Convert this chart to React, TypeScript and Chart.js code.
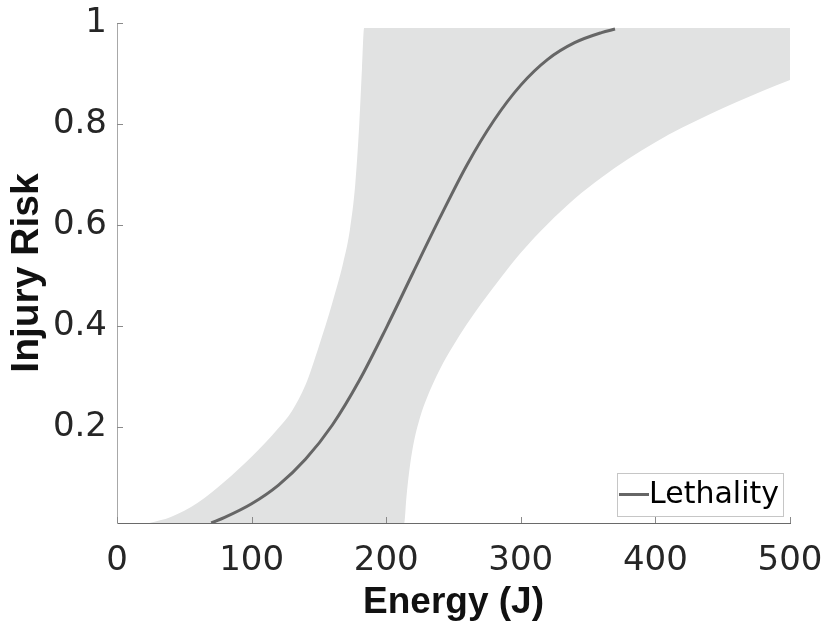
import React, { useEffect, useRef } from "react";
import { Chart, registerables } from "chart.js";

Chart.register(...registerables);

// ---- data ----
const xTickValues = [0, 100, 200, 300, 400, 500];
const yTickValues = [0.2, 0.4, 0.6, 0.8, 1];

const lethalityLabel = "Lethality";
const lethalityX = [70, 80, 100, 120, 140, 160, 180, 200, 220, 240, 260, 280, 300, 320, 340, 360, 370];
const lethalityY = [0.01, 0.021, 0.048, 0.085, 0.136, 0.204, 0.292, 0.396, 0.506, 0.615, 0.719, 0.807, 0.877, 0.928, 0.961, 0.981, 0.988];

// upper confidence bound (left edge of grey band)
const upperX = [24, 40, 60, 80, 100, 120, 130, 140, 150, 160, 168, 173, 177, 180, 182, 183.6, 500];
const upperY = [0.01, 0.022, 0.05, 0.092, 0.141, 0.198, 0.232, 0.283, 0.36, 0.446, 0.525, 0.59, 0.68, 0.8, 0.91, 0.99, 0.99];

// lower confidence bound (right edge of grey band)
const lowerX = [24, 213.5, 215, 217, 220, 225, 230, 240, 250, 260, 270, 285, 300, 320, 340, 360, 380, 400, 420, 440, 460, 480, 500];
const lowerY = [0.01, 0.01, 0.06, 0.11, 0.163, 0.218, 0.256, 0.315, 0.362, 0.404, 0.442, 0.495, 0.545, 0.602, 0.652, 0.694, 0.731, 0.764, 0.793, 0.819, 0.843, 0.866, 0.887];

const xTitle = "Energy (J)";
const yTitle = "Injury Risk";

const toPoints = (xs: number[], ys: number[]) => xs.map((x, i) => ({ x, y: ys[i] }));

const innerTicks = {
  id: "innerTicks",
  afterDatasetsDraw(chart: any) {
    const { ctx, chartArea, scales } = chart;
    const { left, bottom } = chartArea;
    ctx.save();
    ctx.lineWidth = 1;
    ctx.strokeStyle = "#8a8a8a";
    scales.y.ticks.forEach((t: any) => {
      const py = Math.round(scales.y.getPixelForValue(t.value)) + 0.5;
      ctx.beginPath();
      ctx.moveTo(left, py);
      ctx.lineTo(left + 6, py);
      ctx.stroke();
    });
    scales.x.ticks.forEach((t: any) => {
      const px = Math.round(scales.x.getPixelForValue(t.value)) + 0.5;
      ctx.beginPath();
      ctx.moveTo(px, bottom);
      ctx.lineTo(px, bottom - 6);
      ctx.stroke();
    });
    ctx.restore();
  },
};

const boxLegend = {
  id: "boxLegend",
  afterDraw(chart: any) {
    const { ctx, chartArea } = chart;
    const ds = chart.data.datasets[0];
    ctx.save();
    ctx.font = '30px "DejaVu Sans"';
    const tw = ctx.measureText(ds.label).width;
    const w = Math.round(2 + 30 + tw + 4);
    const h = 43;
    const right = Math.round(chartArea.right - 7);
    const bottom = Math.round(chartArea.bottom - 7);
    const left = right - w;
    const top = bottom - h;
    ctx.fillStyle = "#ffffff";
    ctx.fillRect(left, top, w, h);
    ctx.strokeStyle = "#c6c6c6";
    ctx.lineWidth = 1;
    ctx.strokeRect(left + 0.5, top + 0.5, w, h);
    const cy = top + h / 2;
    ctx.strokeStyle = ds.borderColor;
    ctx.lineWidth = 3;
    ctx.beginPath();
    ctx.moveTo(left + 2, cy);
    ctx.lineTo(left + 32, cy);
    ctx.stroke();
    ctx.fillStyle = "#000000";
    ctx.textBaseline = "middle";
    ctx.textAlign = "left";
    ctx.fillText(ds.label, left + 32, cy + 1);
    ctx.restore();
  },
};

export default function App() {
  const canvasRef = useRef<HTMLCanvasElement | null>(null);

  useEffect(() => {
    const canvas = canvasRef.current;
    if (!canvas) return;
    const chart = new Chart(canvas, {
      type: "line",
      data: {
        datasets: [
          {
            label: lethalityLabel,
            data: toPoints(lethalityX, lethalityY),
            borderColor: "#666666",
            borderWidth: 3,
            pointRadius: 0,
            fill: false,
            cubicInterpolationMode: "monotone",
          },
          {
            label: "upper",
            data: toPoints(upperX, upperY),
            borderWidth: 0,
            borderColor: "rgba(0,0,0,0)",
            pointRadius: 0,
            fill: false,
            cubicInterpolationMode: "monotone",
          },
          {
            label: "lower",
            data: toPoints(lowerX, lowerY),
            borderWidth: 0,
            borderColor: "rgba(0,0,0,0)",
            backgroundColor: "#e1e2e2",
            pointRadius: 0,
            fill: "-1",
            cubicInterpolationMode: "monotone",
          },
        ],
      },
      options: {
        animation: false,
        responsive: false,
        maintainAspectRatio: false,
        events: [],
        layout: { padding: { top: 23, right: 36, left: 0, bottom: 0 } },
        plugins: {
          legend: { display: false },
          tooltip: { enabled: false },
        },
        scales: {
          x: {
            type: "linear",
            min: 0,
            max: 500,
            afterBuildTicks: (s: any) => {
              s.ticks = xTickValues.map((v) => ({ value: v }));
            },
            afterFit: (s: any) => {
              s.height = 105;
              s.paddingLeft = 0;
              s.paddingRight = 0;
            },
            grid: { display: false, drawTicks: false },
            border: { display: true, color: "#6a6a6a", width: 1 },
            ticks: {
              padding: 18,
              color: "#262626",
              font: { family: "DejaVu Sans", size: 34 },
              maxRotation: 0,
              callback: (v: any) => String(v),
            },
            title: {
              display: true,
              text: xTitle,
              color: "#111111",
              font: { family: "Liberation Sans", size: 37, weight: "bold" },
              padding: { top: 0, bottom: 3 },
            },
          },
          y: {
            type: "linear",
            min: 0.01,
            max: 1,
            afterBuildTicks: (s: any) => {
              s.ticks = yTickValues.map((v) => ({ value: v }));
            },
            afterFit: (s: any) => {
              s.width = 117;
              s.paddingTop = 0;
              s.paddingBottom = 0;
            },
            grid: { display: false, drawTicks: false },
            border: { display: true, color: "#a8a8a8", width: 1 },
            ticks: {
              padding: 10,
              color: "#262626",
              font: { family: "DejaVu Sans", size: 34 },
              callback: (v: any) => String(v),
            },
            title: {
              display: true,
              text: yTitle,
              color: "#111111",
              font: { family: "Liberation Sans", size: 39, weight: "bold" },
              padding: { top: 4, bottom: 0 },
            },
          },
        },
      },
      plugins: [innerTicks, boxLegend],
    } as any);
    return () => chart.destroy();
  }, []);

  return (
    <div style={{ position: "absolute", left: 0, top: 0, width: 826, height: 628, background: "#fff" }}>
      <canvas ref={canvasRef} width={826} height={628} style={{ width: 826, height: 628, display: "block" }} />
    </div>
  );
}
